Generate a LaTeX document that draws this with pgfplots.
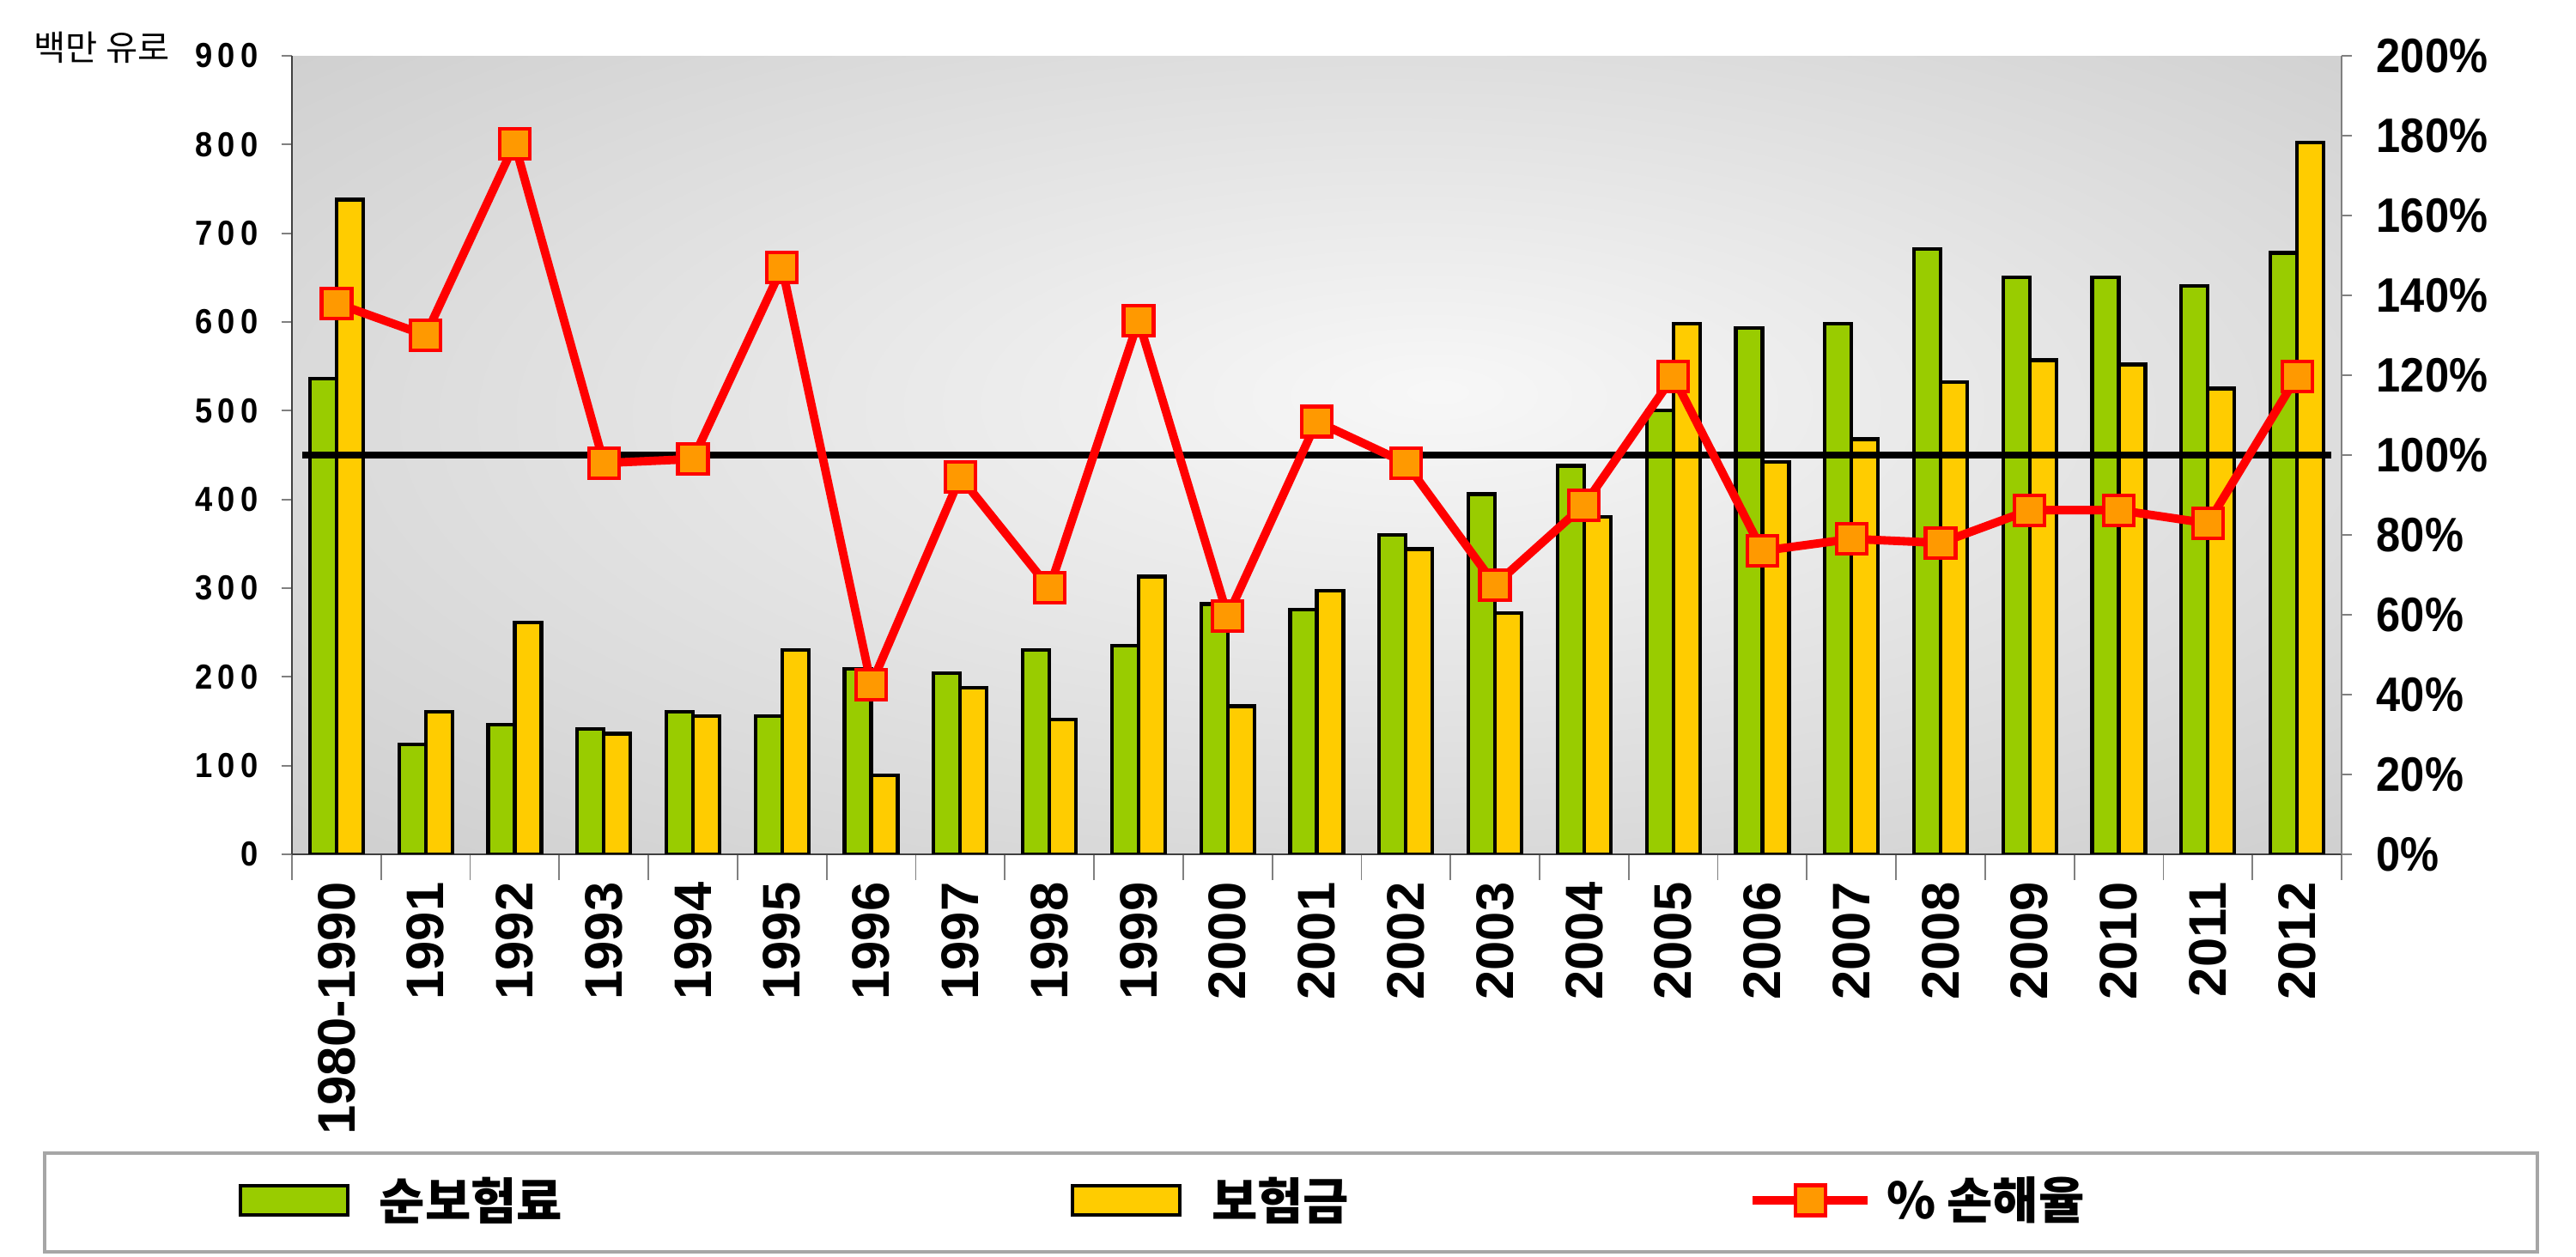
\documentclass[border=0pt]{standalone}
\usepackage{fontspec}
\setmainfont{Liberation Sans}
\newfontfamily\numfont[FakeStretch=0.9]{Liberation Sans}
\newfontfamily\lnumfont[FakeStretch=0.9,LetterSpace=15]{Liberation Sans}
\newfontfamily\krfont{Noto Sans CJK KR}
\usepackage{pgfplots}
\usepackage{pgfplotstable}
\pgfplotsset{compat=1.18}

\definecolor{netgreen}{HTML}{99CC00}
\definecolor{claimyel}{HTML}{FFCC00}
\definecolor{markorange}{HTML}{FF9900}

\pgfdeclareradialshading{plotbg}{\pgfpoint{3bp}{4bp}}{%
  color(0bp)=(white!97!black); color(50bp)=(white!75!black)}

\pgfplotsset{
  barlegend/.style={legend image code/.code={%
    \draw[##1] (0cm,-0.17cm) rectangle (1.25cm,0.17cm);}},
  linelegend/.style={legend image code/.code={%
    \draw[mark repeat=2,mark phase=2,##1] plot coordinates {(0cm,0cm) (0.67cm,0cm) (1.34cm,0cm)};}},
}

% x: category index, green: net premium, yellow: claims, ratio: loss ratio (%)
\pgfplotstableread{
x green yellow ratio
0  536 738 138
1  124 161 130
2  146 261 178
3  141 136 98
4  161 156 99
5  156 230 147
6  209 89  42.5
7  204 188 94.5
8  230 152 66.7
9  235 313 133.7
10 282 167 59.7
11 276 297 108.4
12 360 344 98
13 406 272 67.5
14 438 380 87.5
15 500 598 119.7
16 593 442 76
17 598 468 79
18 682 532 78
19 650 557 86.2
20 650 552 86.2
21 641 525 82.9
22 678 802 119.7
}\datatable

\begin{document}
\begin{tikzpicture}
\begin{axis}[
    name=main,
    scale only axis,
    width=23.87cm, height=9.30cm,
    xmin=-0.5, xmax=22.5,
    ymin=0, ymax=900,
    ybar=0pt, bar width=0.31cm,
    axis x line*=bottom, axis y line*=left,
    axis line style={black!75, line width=0.6pt},
    axis background/.style={shade, shading=plotbg},
    xtick={0,...,22},
    xticklabels={1980-1990,1991,1992,1993,1994,1995,1996,1997,1998,1999,2000,2001,2002,2003,2004,2005,2006,2007,2008,2009,2010,2011,2012},
    major x tick style={draw=none},
    minor xtick={-0.5,0.5,...,22.5},
    minor tick length=0.3cm,
    major tick length=0.12cm,
    tick align=outside,
    tick style={gray, line width=0.5pt},
    xticklabel style={rotate=90, anchor=east, inner sep=0pt, xshift=-0.2cm,
      font=\bfseries\fontsize{17.5}{17.5}\selectfont},
    ytick={0,100,...,900},
    yticklabels={0,100,200,300,400,500,600,700,800,900},
    yticklabel style={inner sep=0pt, xshift=-0.27cm,
      font=\lnumfont\bfseries\fontsize{11.5}{13}\selectfont},
]
\addplot[fill=netgreen, draw=black, line width=1.2pt] table[x=x,y=green]{\datatable};
\addplot[fill=claimyel, draw=black, line width=1.2pt] table[x=x,y=yellow]{\datatable};
\end{axis}

\begin{axis}[
    scale only axis,
    width=23.87cm, height=9.30cm,
    xmin=-0.5, xmax=22.5,
    ymin=0, ymax=200,
    axis x line=none, axis y line*=right,
    axis line style={gray, line width=0.6pt},
    major tick length=0.12cm,
    tick align=outside,
    tick style={gray, line width=0.5pt},
    ytick={0,20,...,200},
    yticklabels={0\%,20\%,40\%,60\%,80\%,100\%,120\%,140\%,160\%,180\%,200\%},
    yticklabel style={inner sep=0pt, xshift=0.28cm,
      font=\numfont\bfseries\fontsize{16}{18}\selectfont},
    legend columns=3,
    legend cell align=left,
    legend style={at={(axis description cs:-0.0264,-0.4333)}, anchor=west,
      draw=none, fill=none, inner sep=0pt, column sep=0pt,
      font=\krfont\bfseries\fontsize{16.5}{19}\selectfont},
]
\addlegendimage{barlegend, fill=netgreen, draw=black, line width=1.2pt}
\addlegendentry{\makebox[8.26cm][l]{\hspace{0.28cm}순보험료}}
\addlegendimage{barlegend, fill=claimyel, draw=black, line width=1.2pt}
\addlegendentry{\makebox[6.46cm][l]{\hspace{0.28cm}보험금}}
\addplot[black, line width=2.5pt, forget plot] coordinates {(-0.38,100) (22.38,100)};
\addplot[linelegend, red, line width=2.8pt, mark=square*, mark size=0.175cm,
    mark options={fill=markorange, draw=red, line width=1.2pt}]
    table[x=x,y=ratio]{\datatable};
\addlegendentry{\hspace{0.1cm}\% 손해율}
\end{axis}

\node[anchor=west, inner sep=0pt, font=\krfont\fontsize{11.5}{13}\selectfont]
  at ([shift={(-3.01cm,0.10cm)}]main.north west) {백만 유로};
\draw[gray!70, line width=1pt]
  ([shift={(-2.88cm,-3.48cm)}]main.south west) rectangle ([shift={(26.15cm,-4.63cm)}]main.south west);
\path ([shift={(-3.40cm,-4.69cm)}]main.south west) rectangle ([shift={(2.73cm,0.65cm)}]main.north east);
\end{tikzpicture}
\end{document}
